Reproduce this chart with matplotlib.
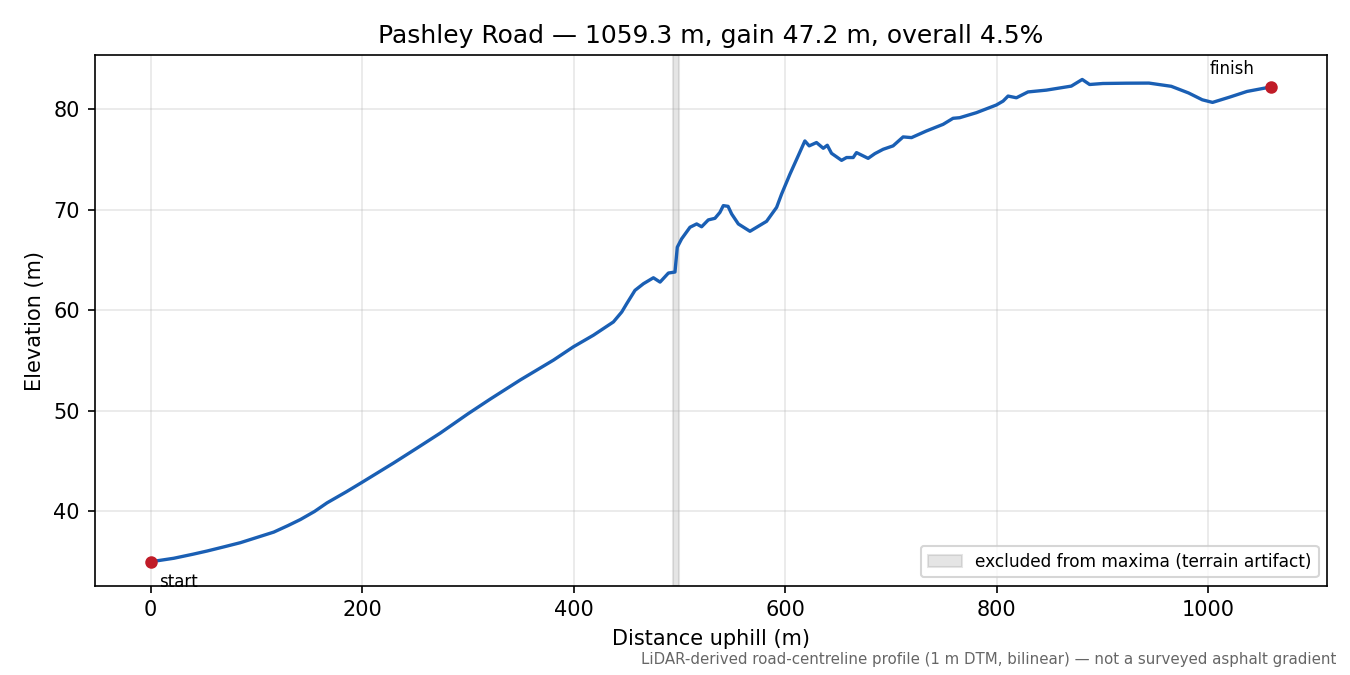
import numpy as np
import matplotlib
matplotlib.use("Agg")
import matplotlib.pyplot as plt

# Elevation profile (distance m, elevation m)
dist = [0, 22, 40, 53.5, 70, 85, 100, 116.5, 130, 141.7, 155, 166.9, 185,
        200, 229.8, 251.9, 273.9,
        300, 321, 349.5, 381, 399.8, 418.7, 437.6, 445.5, 450.2, 458, 466,
        475.4, 481.7, 489.6, 495.8, 498, 502.1, 510, 516.3, 521, 527.3,
        533.6, 538.3, 541.5, 546, 549.4, 555.7, 566.7, 582.4, 591.9, 596.6,
        604.5, 612.3, 618.6, 622.7, 629.6, 636, 639.8, 643.8, 653.3, 658,
        664.3, 667.4, 678.4, 684.8, 692.6, 702, 711.5, 719.4, 733.5, 749.3,
        758.7, 765, 780.8, 799.6, 806, 810.7, 818.6, 829.5, 846.9, 870.5,
        880.8, 887.8, 900.4, 922.5, 943.9, 965, 981.3, 994.3, 1004, 1020.3,
        1036.6, 1059.3]
elev = [35.0, 35.35, 35.75, 36.07, 36.5, 36.9, 37.4, 37.95, 38.6, 39.2, 40.0, 40.86, 41.95,
        42.9, 44.82, 46.3, 47.79,
        49.7, 51.16, 53.07, 55.05, 56.37, 57.52, 58.84, 59.83, 60.66, 61.98, 62.64,
        63.23, 62.8, 63.7, 63.8, 66.27, 67.1, 68.25, 68.58, 68.3, 68.98,
        69.14, 69.73, 70.4, 70.33, 69.57, 68.58, 67.85, 68.84, 70.23, 71.55,
        73.53, 75.35, 76.83, 76.34, 76.67, 76.1, 76.4, 75.6, 74.9, 75.18,
        75.18, 75.67, 75.1, 75.57, 76.0, 76.34, 77.23, 77.16, 77.82, 78.48,
        79.08, 79.14, 79.64, 80.4, 80.79, 81.29, 81.12, 81.7, 81.88, 82.28,
        82.94, 82.44, 82.54, 82.57, 82.58, 82.26, 81.6, 80.92, 80.66, 81.19,
        81.75, 82.2]

# artifact band excluded from maxima
excl_lo, excl_hi = 494, 500

title = "Pashley Road \u2014 1059.3 m, gain 47.2 m, overall 4.5%"
note = "LiDAR-derived road-centreline profile (1 m DTM, bilinear) \u2014 not a surveyed asphalt gradient"

fig, ax = plt.subplots(figsize=(9, 4.5), dpi=150)
fig.subplots_adjust(left=0.070, right=0.983, top=0.918, bottom=0.132)

ax.axvspan(excl_lo, excl_hi, color="0.5", alpha=0.2,
           label="excluded from maxima (terrain artifact)")
ax.plot(dist, elev, color="#1a5fb4", lw=1.6)
ax.plot([dist[0], dist[-1]], [elev[0], elev[-1]], "o", color="#c01c28",
        ms=5, zorder=5)

ax.annotate("start", (dist[0], elev[0]), xytext=(4, -12),
            textcoords="offset points", ha="left", fontsize=8)
ax.annotate("finish", (dist[-1], elev[-1]), xytext=(-8, 6),
            textcoords="offset points", ha="right", fontsize=8)

ax.set_xlabel("Distance uphill (m)")
ax.set_ylabel("Elevation (m)")
ax.set_title(title)
ax.grid(True, alpha=0.3)
ax.legend(loc="lower right", fontsize=8.15)

fig.text(0.99, 0.012, note, ha="right", va="bottom", fontsize=7.2, color="#666666")

fig.savefig("out.png", dpi=150)
